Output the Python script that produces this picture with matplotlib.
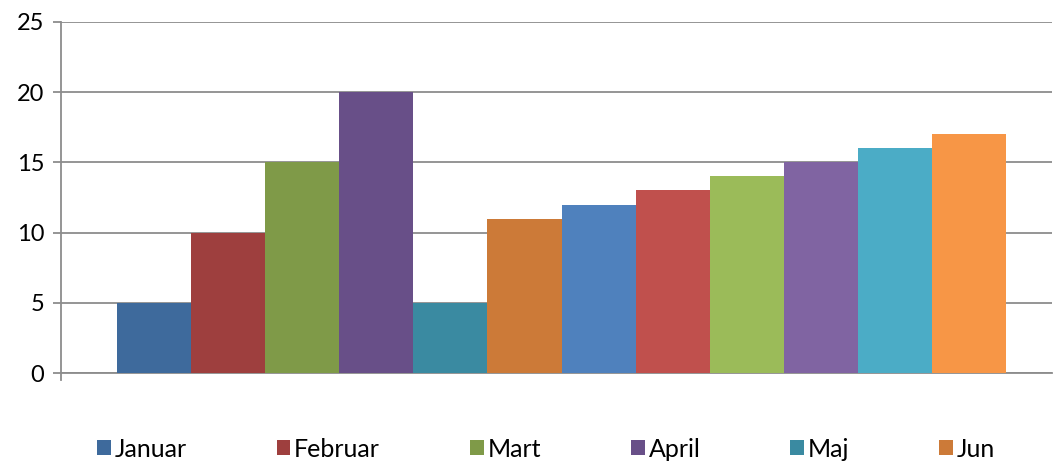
import numpy as np
import matplotlib.pyplot as plt
from matplotlib.patches import Patch

plt.rcParams["font.family"] = ["Lato", "DejaVu Sans"]

# 数据
vrijednosti = [5, 10, 15, 20, 5, 11, 12, 13, 14, 15, 16, 17]
boje = ["#3E6A9C", "#9E3F3E", "#7F9A48", "#684F88", "#3A8AA1", "#CC7A38",
        "#4F81BD", "#C0504D", "#9BBB59", "#8064A2", "#4BACC6", "#F79646"]
legenda = ["Januar", "Februar", "Mart", "April", "Maj", "Jun"]
y_ticks = [0, 5, 10, 15, 20, 25]

fig = plt.figure(figsize=(10.54, 4.61), dpi=100)
ax = fig.add_axes([61 / 1054, 1 - 373 / 461, (1052 - 61) / 1054, (373 - 22) / 461])

x = np.arange(len(vrijednosti))
ax.bar(x, vrijednosti, width=1.0, color=boje, zorder=3)

ax.set_ylim(0, 25)
ax.set_yticks(y_ticks)
ax.set_xlim(-1.256, 12.12)
ax.set_xticks([])
ax.grid(axis="y", color="#8c8c8c", linewidth=1.3, zorder=0)
for s in ["top", "right"]:
    ax.spines[s].set_visible(False)
ax.spines["left"].set_color("#8c8c8c")
ax.spines["bottom"].set_color("#8c8c8c")
ax.spines["left"].set_linewidth(1.3)
ax.spines["bottom"].set_linewidth(1.3)
ax.tick_params(axis="y", labelsize=17, colors="#8c8c8c", labelcolor="black",
               length=6, width=1.3, pad=6)
# mali tick ispod ose
ax.plot([-1.256, -1.256], [0, -0.5], color="#8c8c8c", lw=1.3, clip_on=False)

handles = [Patch(facecolor=boje[i], label=legenda[i]) for i in range(len(legenda))]
fig.legend(handles=handles, loc="center left", bbox_to_anchor=(97 / 1054, 1 - 449 / 461),
           ncol=6, frameon=False, fontsize=18, handlelength=0.55, handleheight=0.55,
           handletextpad=0.15, columnspacing=3.6, borderaxespad=0, borderpad=0)

fig.savefig("out.png", dpi=100)
